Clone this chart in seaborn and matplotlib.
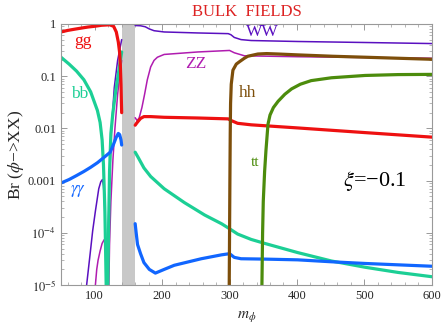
import numpy as np
import matplotlib
matplotlib.use("Agg")
import matplotlib.pyplot as plt
import matplotlib.ticker as mticker
import seaborn as sns

# branching ratios (log scale), split where the curve
# crosses zero or where the grey band hides it
m_gg_lo = [50, 60, 70, 80, 90, 100, 110, 122, 128, 132, 135, 137, 138, 139, 139.5, 140]
br_gg_lo = [0.70, 0.75, 0.79, 0.83, 0.87, 0.90, 0.94, 0.96, 0.90, 0.70, 0.45, 0.28, 0.16, 0.07, 0.035, 0.02]
m_gg_hi = [160, 163, 168, 173, 183, 203, 253, 298, 302, 312, 332, 401, 501, 600]
br_gg_hi = [0.0115, 0.013, 0.0155, 0.0168, 0.0168, 0.0163, 0.0158, 0.0152, 0.0142, 0.0125, 0.0117, 0.0102, 0.0083, 0.0068]

m_ww_a = [88, 93.6, 97, 101, 106, 109, 111.5, 113, 114.4, 115.5, 116.4, 117]
br_ww_a = [1e-5, 4.4e-5, 1.1e-4, 2.6e-4, 7e-4, 9.5e-4, 1.05e-3, 8e-4, 4e-4, 1.5e-4, 4e-5, 1e-5]
m_ww_b = [119, 120, 122, 125, 129, 134, 140]
br_ww_b = [1e-5, 1e-4, 1e-3, 0.01, 0.06, 0.2, 0.5]
m_ww_hi = [160, 168, 175, 181, 188, 203, 253, 298, 302, 307, 317, 332, 401, 501, 600]
br_ww_hi = [0.93, 0.92, 0.88, 0.80, 0.74, 0.70, 0.67, 0.65, 0.62, 0.55, 0.50, 0.48, 0.46, 0.44, 0.42]

m_zz_a = [101, 103, 105, 108, 111, 114, 116, 117.5, 118.5, 119.2]
br_zz_a = [1e-5, 2e-5, 3e-5, 4.5e-5, 6.3e-5, 7.4e-5, 6e-5, 3e-5, 1.5e-5, 1e-5]
m_zz_b = [121, 122, 124, 127, 130, 134, 137, 140]
br_zz_b = [1e-5, 6e-5, 4e-4, 2.5e-3, 0.01, 0.045, 0.1, 0.2]
m_zz_hi = [160, 163, 166, 170, 174, 178, 183, 188, 193, 203, 253, 300, 307, 322, 401, 600]
br_zz_hi = [0.016, 0.014, 0.016, 0.025, 0.045, 0.085, 0.15, 0.2, 0.23, 0.26, 0.29, 0.31, 0.28, 0.245, 0.235, 0.22]

m_bb_a = [50, 62, 73, 84, 94, 104, 108, 111, 113, 115, 116, 117]
br_bb_a = [0.23, 0.17, 0.125, 0.085, 0.05, 0.022, 0.013, 0.006, 0.002, 3e-4, 6e-5, 1e-5]
m_bb_b = [119.5, 120.5, 122, 124, 127, 131, 135, 140]
br_bb_b = [1e-5, 1e-4, 1.5e-3, 8e-3, 0.02, 0.05, 0.11, 0.29]
m_bb_hi = [160, 165, 173, 183, 203, 233, 263, 288, 300, 312, 332, 352, 401, 451, 501, 550, 600]
br_bb_hi = [3.5e-3, 2.7e-3, 1.75e-3, 1.2e-3, 7e-4, 3.8e-4, 2.2e-4, 1.5e-4, 1.2e-4, 9.5e-5, 7.5e-5,
            6.3e-5, 4.2e-5, 2.9e-5, 2.2e-5, 1.75e-5, 1.45e-5]

m_aa_lo = [50, 62, 73, 84, 94, 104, 114, 123, 128, 132, 135, 137, 139, 140]
br_aa_lo = [9e-4, 1.05e-3, 1.25e-3, 1.5e-3, 1.8e-3, 2.2e-3, 2.8e-3, 3.5e-3, 5e-3, 6.8e-3, 8e-3, 7.6e-3, 6e-3, 4.8e-3]
m_aa_hi = [160, 161.5, 163.5, 168, 173, 181, 190, 203, 218, 258, 288, 300, 307, 317, 352, 401, 451, 501, 600]
br_aa_hi = [1.5e-4, 1e-4, 6e-5, 4e-5, 2.7e-5, 2e-5, 1.7e-5, 2e-5, 2.4e-5, 3.2e-5, 3.8e-5, 4e-5, 3.4e-5,
            3.2e-5, 3.15e-5, 3.05e-5, 2.8e-5, 2.6e-5, 2.3e-5]

m_hh = [299.5, 300, 300.5, 301, 301.5, 302.5, 305, 310, 315, 322, 327, 342, 355, 372, 401, 453, 501, 600]
br_hh = [1e-5, 1e-4, 1e-3, 8e-3, 0.03, 0.07, 0.13, 0.17, 0.19, 0.22, 0.24, 0.265, 0.27, 0.265, 0.255, 0.24, 0.23, 0.21]

m_tt = [348, 349, 350, 352, 354, 357, 360, 365, 372, 382, 392, 405, 421, 451, 501, 550, 600]
br_tt = [1e-5, 1e-4, 4e-4, 1.5e-3, 3.8e-3, 0.012, 0.018, 0.025, 0.033, 0.045, 0.057, 0.07, 0.082,
         0.093, 0.103, 0.107, 0.108]

band = (140, 160)

c_gg = "#ee1111"
c_ww = "#5a10c0"
c_zz = "#b01cb0"
c_bb = "#1ccf95"
c_aa = "#1166ff"
c_hh = "#7d4e0a"
c_tt = "#4c8c0c"

sns.set_style("ticks")
plt.rcParams["font.family"] = ["Liberation Serif", "DejaVu Serif"]
plt.rcParams["mathtext.fontset"] = "stix"

fig, ax = plt.subplots(figsize=(4.42, 3.27), dpi=100)
fig.subplots_adjust(left=0.138, right=0.977, top=0.927, bottom=0.128)

ax.axvspan(*band, color="#c8c8c8", lw=0, zorder=0)

thick = 2.3
thin = 1.1
segs = [
    (m_ww_a, br_ww_a, c_ww, thin), (m_ww_b, br_ww_b, c_ww, thin), (m_ww_hi, br_ww_hi, c_ww, thin),
    (m_zz_a, br_zz_a, c_zz, thin), (m_zz_b, br_zz_b, c_zz, thin), (m_zz_hi, br_zz_hi, c_zz, thin),
    (m_bb_a, br_bb_a, c_bb, thick), (m_bb_b, br_bb_b, c_bb, thick), (m_bb_hi, br_bb_hi, c_bb, thick),
    (m_aa_lo, br_aa_lo, c_aa, thick), (m_aa_hi, br_aa_hi, c_aa, thick),
    (m_gg_lo, br_gg_lo, c_gg, thick), (m_gg_hi, br_gg_hi, c_gg, thick),
    (m_hh, br_hh, c_hh, thick), (m_tt, br_tt, c_tt, thick),
]
for x, y, c, lw in segs:
    sns.lineplot(x=x, y=y, color=c, lw=lw, ax=ax, sort=False, estimator=None)

ax.set_yscale("log")
ax.set_xlim(50, 600)
ax.set_ylim(1e-5, 1)

def ylab(v, pos):
    if v >= 1e-3:
        return {1: "1", 0.1: "0.1", 0.01: "0.01", 0.001: "0.001"}.get(round(v, 6), "")
    return "$10^{%d}$" % round(np.log10(v))

ax.yaxis.set_major_formatter(mticker.FuncFormatter(ylab))
ax.yaxis.set_minor_locator(mticker.LogLocator(base=10, subs=np.arange(2, 10), numticks=20))
ax.yaxis.set_minor_formatter(mticker.NullFormatter())
ax.xaxis.set_major_locator(mticker.MultipleLocator(100))
ax.xaxis.set_minor_locator(mticker.MultipleLocator(20))

for s in ax.spines.values():
    s.set_color("#999999")
    s.set_linewidth(0.8)
ax.tick_params(which="both", direction="in", top=True, right=True, color="#999999", labelsize=9)
ax.tick_params(which="major", length=4, width=0.7)
ax.tick_params(which="minor", length=2, width=0.5)

ax.set_xlabel("$m_\\phi$", fontsize=11, labelpad=5)
ax.set_ylabel("Br ($\\phi$\u2212>XX)", fontsize=12.5, labelpad=1)
ax.set_title("BULK  FIELDS", color="#dd2222", fontsize=12, pad=6)

ax.text(82, 0.47, "gg", color=c_gg, fontsize=12.5, ha="center", va="center")
ax.text(348, 0.70, "WW", color=c_ww, fontsize=12.5, ha="center", va="center")
ax.text(250, 0.168, "ZZ", color=c_zz, fontsize=12.5, ha="center", va="center")
ax.text(78, 0.046, "bb", color=c_bb, fontsize=12.5, ha="center", va="center")
ax.text(326, 0.048, "hh", color=c_hh, fontsize=12.5, ha="center", va="center")
ax.text(338, 2.2e-3, "tt", color=c_tt, fontsize=11, ha="center", va="center")
ax.text(76, 6.3e-4, "$\\gamma\\gamma$", color=c_aa, fontsize=12, ha="center", va="center")
ax.text(515, 1e-3, "$\\xi$=\u22120.1", color="black", fontsize=16, ha="center", va="center")

plt.savefig("out.png", dpi=100)
